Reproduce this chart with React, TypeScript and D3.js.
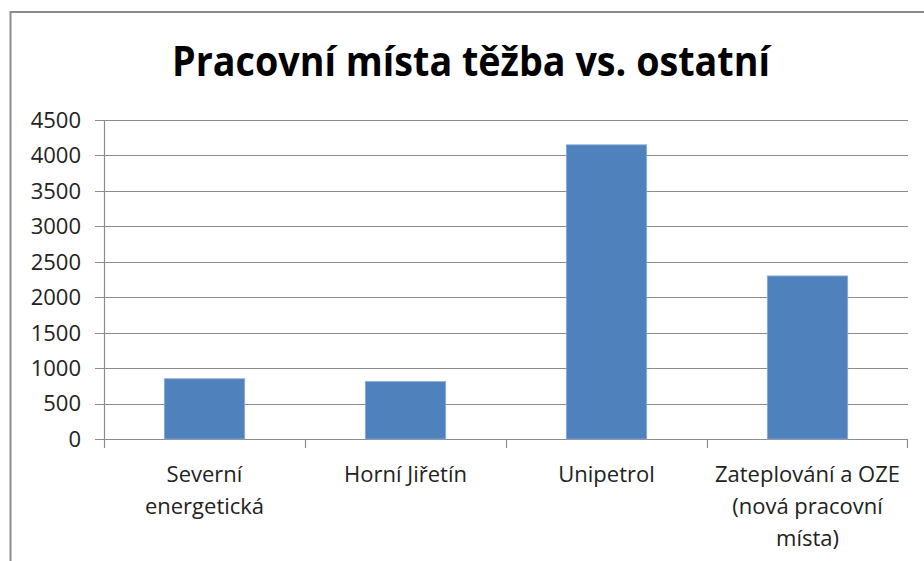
import React from "react";
import * as d3 from "d3";

const categories: string[][] = [
  ["Severní", "energetická"],
  ["Horní Jiřetín"],
  ["Unipetrol"],
  ["Zateplování a OZE", "(nová pracovní", "místa)"],
];
const values: number[] = [850, 810, 4150, 2300];
const yTicks: number[] = [0, 500, 1000, 1500, 2000, 2500, 3000, 3500, 4000, 4500];
const title = "Pracovní místa těžba vs. ostatní";

const W = 924;
const H = 561;
const plot = { left: 104, right: 908, top: 120, bottom: 439 };
const FONT = "'Open Sans', 'Noto Sans', sans-serif";
const GRID = "#8c8c8c";

export default function App() {
  const x = d3
    .scaleBand<number>()
    .domain(categories.map((_, i) => i))
    .range([plot.left, plot.right])
    .paddingInner(0.6)
    .paddingOuter(0.3);
  const y = d3.scaleLinear().domain([0, 4500]).range([plot.bottom, plot.top]);
  const step = x.step();

  return (
    <svg
      width={W}
      height={H}
      style={{ position: "absolute", left: 0, top: 0, display: "block", background: "#fff" }}
    >
      <rect x={10.5} y={12} width={W + 20} height={H + 20} fill="#fff" stroke={GRID} strokeWidth={2} />
      <text
        x={471}
        y={76}
        textAnchor="middle"
        fontFamily={FONT}
        fontWeight={700}
        fontSize={41}
        fill="#000"
        textLength={598}
        lengthAdjust="spacingAndGlyphs"
      >
        {title}
      </text>
      {yTicks.map((t) => (
        <g key={t}>
          <line
            x1={t === 0 ? 95 : 95}
            x2={plot.right}
            y1={Math.round(y(t)) + 0.5}
            y2={Math.round(y(t)) + 0.5}
            stroke={GRID}
            strokeWidth={1.2}
          />
          <text
            x={81}
            y={y(t)}
            dy="0.36em"
            textAnchor="end"
            fontFamily={FONT}
            fontSize={22}
            fill="#222"
          >
            {t}
          </text>
        </g>
      ))}
      <line x1={plot.left + 0.5} x2={plot.left + 0.5} y1={plot.top} y2={plot.bottom} stroke={GRID} strokeWidth={1.2} />
      {categories.map((_, i) => (
        <line
          key={"ct" + i}
          x1={plot.left + i * step + 0.5}
          x2={plot.left + i * step + 0.5}
          y1={plot.bottom}
          y2={plot.bottom + 9}
          stroke={GRID}
          strokeWidth={1.2}
        />
      ))}
      <line
        x1={plot.right - 0.5}
        x2={plot.right - 0.5}
        y1={plot.bottom}
        y2={plot.bottom + 9}
        stroke={GRID}
        strokeWidth={1.2}
      />
      {values.map((v, i) => (
        <rect
          key={"b" + i}
          x={x(i)!}
          y={y(v)}
          width={x.bandwidth()}
          height={y(0) - y(v)}
          fill="#4f81bd"
          stroke="#8fabd6"
          strokeWidth={0.8}
        />
      ))}
      {categories.map((lines, i) => (
        <text
          key={"cl" + i}
          x={x(i)! + x.bandwidth() / 2}
          y={482}
          textAnchor="middle"
          fontFamily={FONT}
          fontSize={22}
          fill="#222"
        >
          {lines.map((l, j) => (
            <tspan key={j} x={x(i)! + x.bandwidth() / 2} dy={j === 0 ? 0 : 32}>
              {l}
            </tspan>
          ))}
        </text>
      ))}
    </svg>
  );
}
